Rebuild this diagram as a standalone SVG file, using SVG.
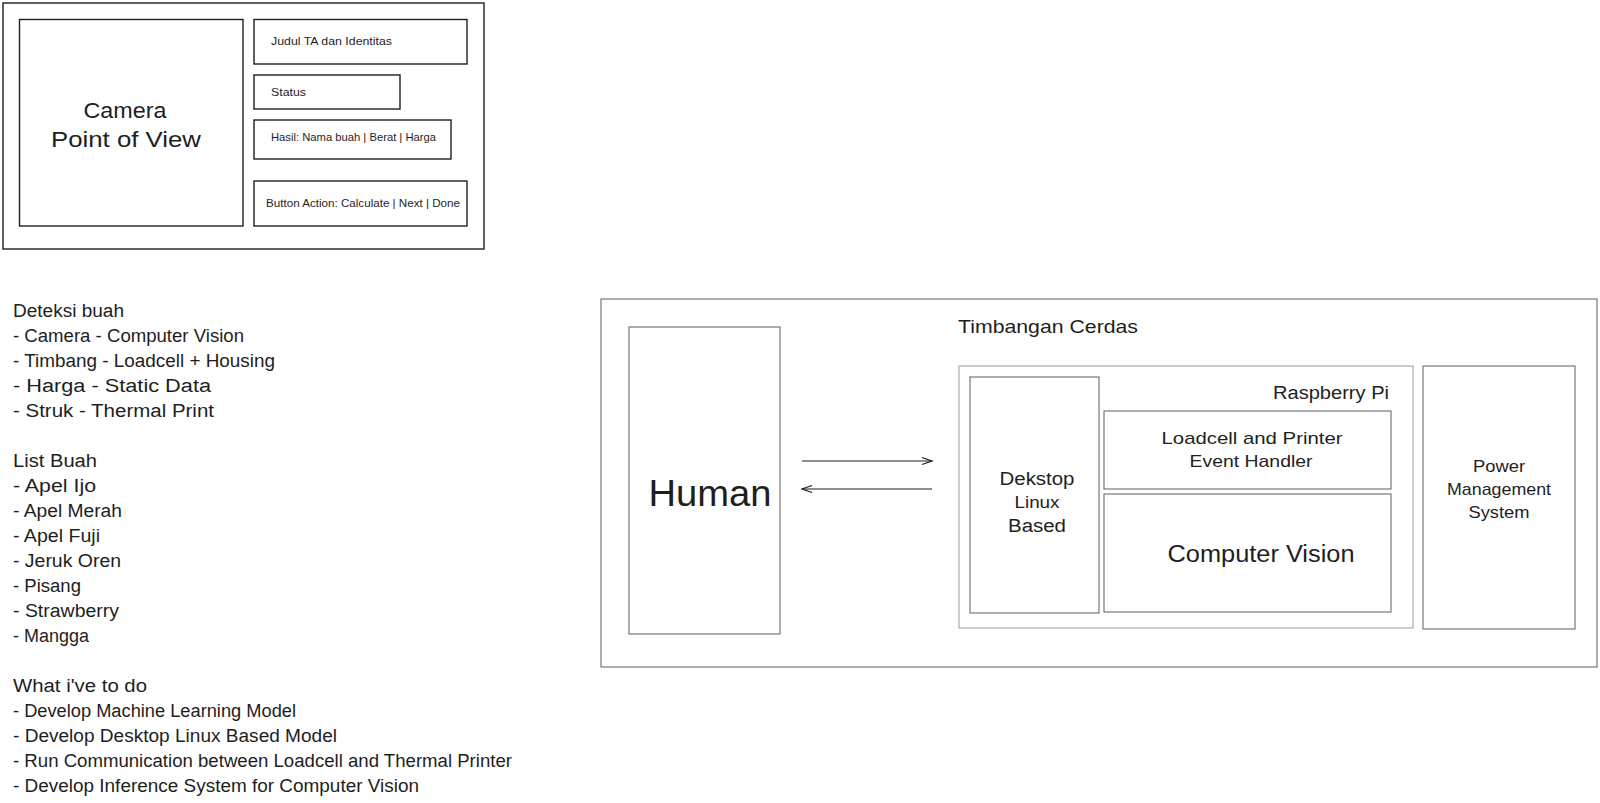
<svg xmlns="http://www.w3.org/2000/svg" width="1600" height="803" viewBox="0 0 1600 803">
<style>
  .t { font-family: "Liberation Sans", Arial, sans-serif; fill: #1e1e1e; }
  .wf { fill: none; stroke: #1e1e1e; stroke-width: 1.4; }
  .bx { fill: none; stroke: #6b6b6b; stroke-width: 1.1; }
  .lb { fill: none; stroke: #9a9a9a; stroke-width: 1; }
  .c { stroke: #1e1e1e; stroke-width: 1.2; fill: none; }
  .list { font-size: 18px; }
</style>
<defs>
  <marker id="arr" markerUnits="userSpaceOnUse" markerWidth="14" markerHeight="10" refX="12" refY="5" orient="auto">
    <path d="M2,1.5 L12,5 L2,8.5" fill="none" stroke="#1e1e1e" stroke-width="1.2"/>
  </marker>
</defs>
<rect width="1600" height="803" fill="#ffffff"/>

<!-- Top wireframe -->
<g id="wireframe">
  <rect class="wf" x="3" y="3" width="481" height="246"/>
</g>
<g id="camera-pov">
  <rect class="wf" x="19.5" y="19.5" width="223.5" height="206.5"/>
  <text class="t" x="125" y="118" font-size="22" text-anchor="middle" textLength="83" lengthAdjust="spacingAndGlyphs">Camera</text>
  <text class="t" x="126" y="147" font-size="22" text-anchor="middle" textLength="150" lengthAdjust="spacingAndGlyphs">Point of View</text>
</g>
<g id="judul">
  <rect class="wf" x="254" y="19.5" width="213" height="44.5"/>
  <text class="t" x="271" y="45" font-size="10.5" textLength="121" lengthAdjust="spacingAndGlyphs">Judul TA dan Identitas</text>
</g>
<g id="status">
  <rect class="wf" x="254" y="75" width="146" height="34"/>
  <text class="t" x="271" y="96" font-size="10.5" textLength="35" lengthAdjust="spacingAndGlyphs">Status</text>
</g>
<g id="hasil">
  <rect class="wf" x="254" y="120" width="197" height="39"/>
  <text class="t" x="271" y="141" font-size="10.5" textLength="165" lengthAdjust="spacingAndGlyphs">Hasil: Nama buah | Berat | Harga</text>
</g>
<g id="button-action">
  <rect class="wf" x="254" y="181" width="213" height="45"/>
  <text class="t" x="266" y="207" font-size="10.5" textLength="194" lengthAdjust="spacingAndGlyphs">Button Action: Calculate | Next | Done</text>
</g>

<!-- Notes -->
<g id="notes" class="t list">
  <text x="13" y="317" textLength="111" lengthAdjust="spacingAndGlyphs">Deteksi buah</text>
  <text x="13" y="342" textLength="231" lengthAdjust="spacingAndGlyphs">- Camera - Computer Vision</text>
  <text x="13" y="367" textLength="262" lengthAdjust="spacingAndGlyphs">- Timbang - Loadcell + Housing</text>
  <text x="13" y="392" textLength="198" lengthAdjust="spacingAndGlyphs">- Harga - Static Data</text>
  <text x="13" y="417" textLength="201" lengthAdjust="spacingAndGlyphs">- Struk - Thermal Print</text>
  <text x="13" y="467" textLength="84" lengthAdjust="spacingAndGlyphs">List Buah</text>
  <text x="13" y="492" textLength="83" lengthAdjust="spacingAndGlyphs">- Apel Ijo</text>
  <text x="13" y="517" textLength="109" lengthAdjust="spacingAndGlyphs">- Apel Merah</text>
  <text x="13" y="542" textLength="87" lengthAdjust="spacingAndGlyphs">- Apel Fuji</text>
  <text x="13" y="567" textLength="108" lengthAdjust="spacingAndGlyphs">- Jeruk Oren</text>
  <text x="13" y="592" textLength="68" lengthAdjust="spacingAndGlyphs">- Pisang</text>
  <text x="13" y="617" textLength="106" lengthAdjust="spacingAndGlyphs">- Strawberry</text>
  <text x="13" y="642" textLength="76" lengthAdjust="spacingAndGlyphs">- Mangga</text>
  <text x="13" y="692" textLength="134" lengthAdjust="spacingAndGlyphs">What i've to do</text>
  <text x="13" y="717" textLength="283" lengthAdjust="spacingAndGlyphs">- Develop Machine Learning Model</text>
  <text x="13" y="742" textLength="324" lengthAdjust="spacingAndGlyphs">- Develop Desktop Linux Based Model</text>
  <text x="13" y="767" textLength="499" lengthAdjust="spacingAndGlyphs">- Run Communication between Loadcell and Thermal Printer</text>
  <text x="13" y="792" textLength="406" lengthAdjust="spacingAndGlyphs">- Develop Inference System for Computer Vision</text>
</g>

<!-- System diagram -->
<g id="timbangan-cerdas">
  <rect class="bx" x="601" y="299" width="996" height="368"/>
  <text class="t" x="958" y="333" font-size="19" textLength="180" lengthAdjust="spacingAndGlyphs">Timbangan Cerdas</text>
</g>
<g id="human">
  <rect class="bx" x="629" y="327" width="151" height="307"/>
  <text class="t" x="710" y="506" font-size="37" text-anchor="middle" textLength="123" lengthAdjust="spacingAndGlyphs">Human</text>
</g>
<g id="raspberry-pi">
  <rect class="lb" x="959" y="366" width="454" height="262"/>
  <text class="t" x="1389" y="399" font-size="18" text-anchor="end" textLength="116" lengthAdjust="spacingAndGlyphs">Raspberry Pi</text>
</g>
<g id="dekstop">
  <rect class="bx" x="970" y="377" width="129" height="236"/>
  <text class="t" x="1037" y="485" font-size="18" text-anchor="middle" textLength="75" lengthAdjust="spacingAndGlyphs">Dekstop</text>
  <text class="t" x="1037" y="508" font-size="16" text-anchor="middle" textLength="45" lengthAdjust="spacingAndGlyphs">Linux</text>
  <text class="t" x="1037" y="532" font-size="18" text-anchor="middle" textLength="58" lengthAdjust="spacingAndGlyphs">Based</text>
</g>
<g id="loadcell-handler">
  <rect class="bx" x="1104" y="411" width="287" height="78"/>
  <text class="t" x="1252" y="444" font-size="17" text-anchor="middle" textLength="181" lengthAdjust="spacingAndGlyphs">Loadcell and Printer</text>
  <text class="t" x="1251" y="467" font-size="17" text-anchor="middle" textLength="123" lengthAdjust="spacingAndGlyphs">Event Handler</text>
</g>
<g id="computer-vision">
  <rect class="bx" x="1104" y="494" width="287" height="118"/>
  <text class="t" x="1261" y="562" font-size="23" text-anchor="middle" textLength="187" lengthAdjust="spacingAndGlyphs">Computer Vision</text>
</g>
<g id="power-management">
  <rect class="bx" x="1423" y="366" width="152" height="263"/>
  <text class="t" x="1499" y="472" font-size="17" text-anchor="middle" textLength="52" lengthAdjust="spacingAndGlyphs">Power</text>
  <text class="t" x="1499" y="495" font-size="17" text-anchor="middle" textLength="104" lengthAdjust="spacingAndGlyphs">Management</text>
  <text class="t" x="1499" y="518" font-size="17" text-anchor="middle" textLength="61" lengthAdjust="spacingAndGlyphs">System</text>
</g>

<g id="connectors">
  <line class="c" x1="802" y1="461" x2="932" y2="461" marker-end="url(#arr)"/>
  <line class="c" x1="932" y1="489" x2="802" y2="489" marker-end="url(#arr)"/>
</g>
</svg>
